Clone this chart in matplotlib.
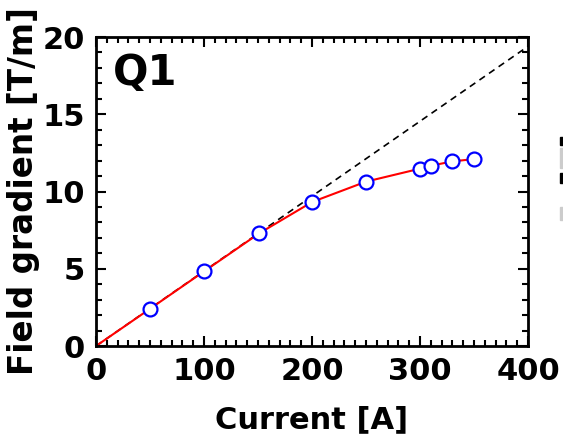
import matplotlib
matplotlib.use("Agg")
import matplotlib.pyplot as plt
from matplotlib.ticker import MultipleLocator
from matplotlib.patches import Rectangle

# measured data
current = [0, 50, 100, 151, 200, 250, 300, 310, 330, 350]
gradient = [0, 2.41, 4.83, 7.29, 9.32, 10.64, 11.48, 11.67, 11.95, 12.10]

# linear reference
lin_current = [0, 400]
lin_slope = 0.0485
lin_gradient = [c * lin_slope for c in lin_current]

plt.rcParams["font.family"] = "DejaVu Sans"
plt.rcParams["font.weight"] = "bold"

fig = plt.figure(figsize=(5.63, 4.38), dpi=100)
ax = fig.add_axes([0.1705, 0.21, 0.7675, 0.7055])

ax.plot(lin_current, lin_gradient, color="black", linestyle="--", linewidth=1.2, dashes=(4, 3))
ax.plot(current[1:], gradient[1:], linestyle="none", marker="o", markersize=10,
        markerfacecolor="white", markeredgecolor="blue", markeredgewidth=1.6, zorder=3)
ax.plot(current, gradient, color="red", linewidth=1.5, zorder=2)

ax.set_xlim(0, 400)
ax.set_ylim(0, 20)
ax.xaxis.set_major_locator(MultipleLocator(100))
ax.xaxis.set_minor_locator(MultipleLocator(10))
ax.yaxis.set_major_locator(MultipleLocator(5))
ax.yaxis.set_minor_locator(MultipleLocator(1))
ax.tick_params(which="both", direction="in", top=True, right=True, width=1.5)
ax.tick_params(which="major", length=7.5, labelsize=22)
ax.tick_params(axis="x", which="major", pad=8)
ax.tick_params(axis="y", which="major", pad=8)
ax.tick_params(which="minor", length=4.5)
for s in ax.spines.values():
    s.set_linewidth(2)
for lbl in ax.get_xticklabels() + ax.get_yticklabels():
    lbl.set_fontweight("bold")

ax.set_xlabel("Current [A]", fontsize=22, fontweight="bold", labelpad=14)
ax.set_ylabel("Field gradient [T/m]", fontsize=23.5, fontweight="bold", labelpad=2)
ax.text(0.04, 0.95, "Q1", transform=ax.transAxes, fontsize=30, fontweight="bold",
        va="top", ha="left")

# cut-off legend fragments at the right edge
for y0, y1, c in [(137, 145, "black"), (148, 168, "#cccccc"), (173, 183, "black"), (207, 220, "#cccccc")]:
    fig.patches.append(Rectangle((560 / 563, 1 - y1 / 438), 3 / 563, (y1 - y0) / 438,
                                 transform=fig.transFigure, color=c))

fig.savefig("out.png", dpi=100)
